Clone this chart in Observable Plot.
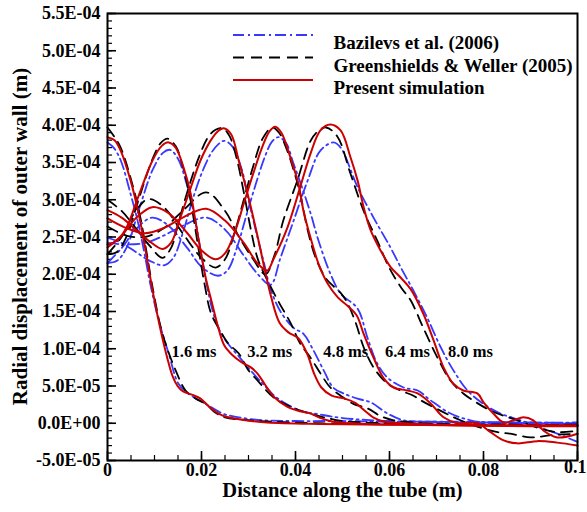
<!DOCTYPE html>
<html>
<head>
<meta charset="utf-8">
<script src="https://cdn.jsdelivr.net/npm/d3@7"></script>
<script src="https://cdn.jsdelivr.net/npm/@observablehq/plot@0.6"></script>
<style>
  html, body { margin: 0; padding: 0; background: #fff; }
  svg { display: block; }
</style>
</head>
<body>
<div id="chart"></div>
<script>
// Values: x in m, y in units of 1E-04 m
const UNIT = 1e-4;

// Present simulation (red, solid)
const red16 = [[0,3.84],[0.0015,3.8],[0.0028,3.66],[0.0049,3.26],[0.0066,2.82],[0.0081,2.32],[0.0096,1.78],[0.0113,1.25],[0.0127,0.88],[0.0138,0.64],[0.0149,0.5],[0.016,0.43],[0.0181,0.38],[0.0198,0.33],[0.0215,0.23],[0.0236,0.13],[0.0257,0.08],[0.0294,0.04],[0.034,0.01],[0.045,-0.01],[0.06,-0.02],[0.075,-0.03],[0.09,-0.04],[0.1,-0.04]];
const red32 = [[0,2.4],[0.002,2.45],[0.004,2.62],[0.0066,3.05],[0.0096,3.53],[0.0115,3.72],[0.013,3.77],[0.0145,3.7],[0.0162,3.43],[0.0177,3.08],[0.0187,2.72],[0.0198,2.32],[0.0209,1.95],[0.0222,1.62],[0.0235,1.3],[0.0248,1.05],[0.0265,0.92],[0.0285,0.82],[0.0305,0.75],[0.032,0.66],[0.0335,0.52],[0.0355,0.35],[0.0383,0.22],[0.041,0.16],[0.0432,0.13],[0.0453,0.07],[0.048,0.02],[0.055,-0.01],[0.07,-0.02],[0.085,-0.03],[0.1,-0.03]];
const red48 = [[0,2.86],[0.003,2.76],[0.006,2.6],[0.009,2.44],[0.0117,2.34],[0.0135,2.42],[0.0155,2.76],[0.0177,3.16],[0.0198,3.53],[0.0219,3.79],[0.0235,3.92],[0.0247,3.96],[0.0263,3.88],[0.0279,3.53],[0.030,3.03],[0.032,2.49],[0.0335,2.05],[0.0348,1.7],[0.0366,1.35],[0.0385,1.22],[0.0406,1.14],[0.0425,0.93],[0.044,0.66],[0.0455,0.48],[0.0477,0.37],[0.0505,0.33],[0.0528,0.27],[0.0545,0.18],[0.0565,0.08],[0.059,0.02],[0.063,0.0],[0.07,-0.02],[0.08,-0.03],[0.09,-0.03],[0.1,-0.03]];
const red64 = [[0,2.36],[0.003,2.52],[0.006,2.75],[0.0095,2.9],[0.013,2.82],[0.017,2.55],[0.020,2.32],[0.023,2.2],[0.025,2.28],[0.027,2.55],[0.029,2.95],[0.031,3.35],[0.033,3.72],[0.0345,3.92],[0.0357,3.98],[0.037,3.9],[0.039,3.55],[0.0406,3.22],[0.0417,2.85],[0.0432,2.49],[0.0449,2.14],[0.0468,1.88],[0.049,1.69],[0.051,1.58],[0.053,1.45],[0.0545,1.2],[0.0566,0.88],[0.0587,0.61],[0.0609,0.48],[0.0638,0.44],[0.066,0.4],[0.0687,0.27],[0.0715,0.08],[0.0745,0.0],[0.0787,0.0],[0.0815,-0.12],[0.0843,-0.23],[0.0872,-0.27],[0.0915,-0.24],[0.0957,-0.26],[0.1,-0.3]];
const red80 = [[0,2.75],[0.004,2.62],[0.008,2.55],[0.012,2.62],[0.016,2.76],[0.021,2.88],[0.025,2.72],[0.029,2.42],[0.032,2.14],[0.034,2.05],[0.0353,2.2],[0.0383,2.63],[0.041,3.17],[0.0432,3.62],[0.0453,3.93],[0.0474,4.01],[0.0496,3.93],[0.0517,3.57],[0.0532,3.26],[0.0545,2.9],[0.056,2.59],[0.0581,2.32],[0.0602,2.1],[0.0623,1.96],[0.0645,1.8],[0.0672,1.47],[0.0694,1.11],[0.0715,0.75],[0.0736,0.53],[0.0757,0.44],[0.0787,0.4],[0.08,0.28],[0.0821,0.13],[0.0843,0.01],[0.0864,0.04],[0.0885,0.08],[0.0906,0.04],[0.0928,-0.1],[0.0957,-0.19],[0.1,-0.14]];

// Greenshields & Weller (2005) (black, dashed)
const black16 = [[0,3.97],[0.0013,3.86],[0.0028,3.7],[0.0055,3.16],[0.007,2.76],[0.0083,2.3],[0.0096,1.82],[0.0117,1.2],[0.0145,0.71],[0.0166,0.44],[0.0188,0.33],[0.0209,0.26],[0.023,0.14],[0.025,0.08],[0.03,0.04],[0.035,0.02],[0.045,0.0],[0.06,-0.01],[0.075,-0.02],[0.09,-0.03],[0.1,-0.03]];
const black32 = [[0,2.27],[0.002,2.3],[0.004,2.5],[0.0066,3.0],[0.0096,3.55],[0.0113,3.76],[0.0128,3.82],[0.0145,3.72],[0.016,3.45],[0.0175,3.05],[0.0185,2.68],[0.0196,2.25],[0.0207,1.85],[0.022,1.48],[0.024,1.24],[0.0257,1.07],[0.0279,0.94],[0.03,0.71],[0.032,0.57],[0.0332,0.48],[0.0353,0.35],[0.0383,0.24],[0.042,0.15],[0.046,0.08],[0.05,0.03],[0.055,0.01],[0.07,-0.01],[0.085,-0.02],[0.1,-0.02]];
const black48 = [[0,3.0],[0.003,2.85],[0.006,2.62],[0.009,2.38],[0.0117,2.22],[0.0135,2.35],[0.0152,2.72],[0.0173,3.17],[0.0195,3.58],[0.0215,3.85],[0.023,3.94],[0.0245,3.96],[0.026,3.85],[0.0275,3.55],[0.029,3.1],[0.0305,2.6],[0.032,2.2],[0.034,1.92],[0.0365,1.62],[0.039,1.34],[0.041,1.07],[0.0432,0.88],[0.0453,0.67],[0.0474,0.48],[0.0496,0.37],[0.0523,0.26],[0.0553,0.2],[0.058,0.1],[0.0609,0.04],[0.065,0.01],[0.07,-0.01],[0.085,-0.02],[0.1,-0.03]];
const black64 = [[0,2.27],[0.003,2.5],[0.006,2.85],[0.0087,3.01],[0.012,2.9],[0.016,2.55],[0.02,2.22],[0.023,2.09],[0.025,2.2],[0.027,2.55],[0.029,3.0],[0.031,3.45],[0.033,3.82],[0.035,3.97],[0.0365,3.9],[0.038,3.7],[0.0395,3.42],[0.041,3.08],[0.0426,2.59],[0.0443,2.22],[0.0464,1.95],[0.0479,1.85],[0.0496,1.75],[0.051,1.62],[0.0528,1.35],[0.0545,1.02],[0.0566,0.75],[0.0596,0.53],[0.0623,0.44],[0.0651,0.37],[0.0666,0.31],[0.0708,0.17],[0.0751,0.04],[0.0794,-0.06],[0.083,-0.12],[0.0857,-0.14],[0.09,-0.19],[0.0943,-0.16],[0.1,-0.14]];
const black80 = [[0,2.64],[0.004,2.52],[0.008,2.5],[0.012,2.62],[0.016,2.85],[0.021,3.1],[0.025,2.85],[0.028,2.5],[0.031,2.2],[0.0336,2.0],[0.0355,2.25],[0.0374,2.72],[0.0404,3.26],[0.0432,3.79],[0.0448,3.92],[0.0465,3.97],[0.0489,3.85],[0.0517,3.35],[0.0545,2.85],[0.0574,2.45],[0.06,2.08],[0.0625,1.82],[0.0645,1.65],[0.0672,1.28],[0.0702,0.88],[0.073,0.57],[0.0757,0.4],[0.0787,0.27],[0.0815,0.17],[0.0843,0.1],[0.0872,0.04],[0.0915,-0.06],[0.0957,-0.12],[0.1,-0.1]];

// Bazilevs et al. (2006) (blue, dash-dot)
const blue16 = [[0,3.77],[0.0013,3.7],[0.0028,3.53],[0.0049,3.08],[0.0064,2.72],[0.0078,2.3],[0.0091,1.87],[0.0109,1.38],[0.013,0.94],[0.0151,0.53],[0.0172,0.4],[0.0209,0.26],[0.0245,0.13],[0.0279,0.08],[0.033,0.04],[0.04,0.03],[0.05,0.03],[0.06,0.02],[0.07,0.02],[0.08,0.01],[0.09,0.01],[0.1,0.0]];
const blue32 = [[0,2.15],[0.002,2.18],[0.004,2.35],[0.0066,2.85],[0.0096,3.4],[0.0118,3.63],[0.0133,3.67],[0.015,3.55],[0.0168,3.22],[0.0185,2.78],[0.0198,2.32],[0.021,1.9],[0.0222,1.55],[0.0236,1.28],[0.0255,1.08],[0.0279,0.9],[0.03,0.74],[0.032,0.6],[0.0332,0.52],[0.0353,0.38],[0.038,0.26],[0.0415,0.16],[0.045,0.12],[0.05,0.07],[0.06,0.03],[0.075,0.02],[0.09,0.01],[0.1,0.01]];
const blue48 = [[0,2.49],[0.003,2.42],[0.006,2.3],[0.009,2.18],[0.012,2.12],[0.014,2.22],[0.016,2.55],[0.018,2.98],[0.02,3.35],[0.022,3.62],[0.0235,3.74],[0.0248,3.79],[0.0265,3.72],[0.0285,3.42],[0.03,3.0],[0.0317,2.55],[0.0333,2.15],[0.0347,1.8],[0.0368,1.5],[0.0396,1.28],[0.0417,1.2],[0.0438,0.98],[0.046,0.71],[0.048,0.48],[0.0502,0.4],[0.0532,0.33],[0.056,0.28],[0.0596,0.13],[0.063,0.04],[0.067,0.02],[0.08,0.01],[0.09,0.0],[0.1,-0.01]];
const blue64 = [[0,2.15],[0.003,2.35],[0.006,2.6],[0.0095,2.76],[0.013,2.65],[0.017,2.35],[0.02,2.1],[0.0235,1.98],[0.0255,2.05],[0.0275,2.35],[0.0295,2.78],[0.0315,3.2],[0.0335,3.58],[0.035,3.78],[0.0364,3.84],[0.038,3.76],[0.0395,3.5],[0.0412,3.2],[0.0432,2.82],[0.0449,2.45],[0.0474,2.01],[0.0496,1.74],[0.0532,1.54],[0.0553,1.15],[0.0574,0.8],[0.0596,0.61],[0.063,0.48],[0.066,0.44],[0.0687,0.31],[0.073,0.13],[0.0772,0.04],[0.0815,0.0],[0.09,0.0],[0.1,-0.02]];
const blue80 = [[0,2.42],[0.004,2.4],[0.008,2.42],[0.012,2.52],[0.016,2.65],[0.021,2.76],[0.025,2.6],[0.029,2.25],[0.032,2.0],[0.0347,1.86],[0.0368,2.22],[0.0396,2.72],[0.0426,3.26],[0.0453,3.66],[0.0481,3.77],[0.0496,3.7],[0.0532,3.17],[0.0566,2.76],[0.0602,2.36],[0.0625,2.08],[0.0651,1.78],[0.068,1.42],[0.0709,1.02],[0.0736,0.71],[0.0766,0.44],[0.08,0.26],[0.0836,0.13],[0.0879,0.04],[0.0921,-0.06],[0.0957,-0.14],[0.1,-0.25]];

const sources = ["Bazilevs et al. (2006)", "Greenshields & Weller (2005)", "Present simulation"];
const times = ["1.6", "3.2", "4.8", "6.4", "8.0"];
const curves = [
  [blue16, blue32, blue48, blue64, blue80],
  [black16, black32, black48, black64, black80],
  [red16, red32, red48, red64, red80]
];

// time labels (data position of each label's centre)
const timeLabels = ["1.6 ms", "3.2 ms", "4.8 ms", "6.4 ms", "8.0 ms"];
const timeLabelX = [0.0184, 0.0345, 0.0507, 0.0638, 0.0772];
const timeLabelY = 0.96 * UNIT;

// axis ticks
const xTicks = [0, 0.02, 0.04, 0.06, 0.08, 0.1];
const xMinor = d3.range(0, 21).map(i => i * 0.005);
const yTicks = d3.range(-1, 12).map(i => i * 5e-5);
const yMinor = d3.range(-5, 56).map(i => i * 1e-5);

const xLabel = "Distance along the tube (m)";
const yLabel = "Radial displacement of outer wall (m)";

const styles = [
  {stroke: "#3838ff", strokeWidth: 1.8, strokeDasharray: "11,4,2,4"},
  {stroke: "#000000", strokeWidth: 1.8, strokeDasharray: "11,7"},
  {stroke: "#cc0000", strokeWidth: 2, strokeDasharray: null}
];

const lineData = sources.map((src, si) => curves[si].flatMap((pts, ti) =>
  pts.map(([x, y]) => ({x, y: y * UNIT, key: src + " " + times[ti]}))));

function fmtE(v) {
  const s = v.toExponential(1);
  let [m, e] = s.split("e");
  const sign = e[0] === "-" ? "-" : "+";
  e = e.replace(/[+-]/, "");
  return m + "E" + sign + e.padStart(2, "0");
}
const fmtX = d => d === 0 ? "0" : String(d);

const FONT = "'Liberation Serif', 'Times New Roman', serif";
const W = 587, H = 512, ML = 107, MR = 10, MT = 13, MB = 52;
const innerW = W - ML - MR, innerH = H - MT - MB;

const chart = Plot.plot({
  width: W, height: H,
  marginLeft: ML, marginRight: MR, marginTop: MT, marginBottom: MB,
  x: {domain: [0, 0.1]},
  y: {domain: [-5e-5, 5.5e-4]},
  style: {fontFamily: FONT, fontWeight: "bold", background: "white", color: "black"},
  marks: [
    Plot.axisX({ticks: xTicks.slice(0, -1), tickSize: 0, tickPadding: 3, tickFormat: fmtX, fontSize: 18, fontWeight: "bold", label: null}),
    Plot.text(xTicks.slice(-1), {x: d => d, frameAnchor: "bottom", dy: 12, dx: 9, textAnchor: "end", text: fmtX, fontSize: 18, fontWeight: "bold", fill: "black"}),
    Plot.axisY({ticks: yTicks, tickSize: 0, tickPadding: 7, tickFormat: fmtE, fontSize: 18, fontWeight: "bold", label: null}),
    Plot.tickX(xMinor, {x: d => d, insetTop: innerH - 5, stroke: "black", strokeWidth: 1.2}),
    Plot.tickX(xTicks, {x: d => d, insetTop: innerH - 9, stroke: "black", strokeWidth: 1.6}),
    Plot.tickY(yMinor, {y: d => d, insetRight: innerW - 5, stroke: "black", strokeWidth: 1.2}),
    Plot.tickY(yTicks, {y: d => d, insetRight: innerW - 9, stroke: "black", strokeWidth: 1.6}),
    ...lineData.map((d, i) => Plot.line(d, {x: "x", y: "y", z: "key", curve: "catmull-rom", ...styles[i]})),
    Plot.frame({stroke: "black", strokeWidth: 2}),
    Plot.text(timeLabels, {x: (d, i) => timeLabelX[i], y: () => timeLabelY, text: d => d, fontSize: 16.5, fontWeight: "bold", fill: "black"}),
    ...sources.map((s, i) => Plot.text([s], {frameAnchor: "top-left", dx: 226, dy: 22 + i * 22.5, text: d => d, textAnchor: "start", fontSize: 19, fontWeight: "bold", fill: "black"})),
    Plot.text([xLabel], {frameAnchor: "bottom", dy: 36, text: d => d, fontSize: 20.5, fontWeight: "bold", fill: "black"})
  ]
});

const svg = d3.select(chart);
// legend sample lines
sources.forEach((s, i) => {
  const st = styles[i];
  svg.append("line")
    .attr("x1", 233).attr("x2", 313)
    .attr("y1", 35 + i * 22.5).attr("y2", 35 + i * 22.5)
    .attr("stroke", st.stroke).attr("stroke-width", st.strokeWidth)
    .attr("stroke-dasharray", st.strokeDasharray);
});
// y axis title
svg.append("text")
  .attr("transform", `translate(20,${MT + innerH / 2}) rotate(-90)`)
  .attr("text-anchor", "middle")
  .attr("dominant-baseline", "central")
  .attr("font-family", FONT)
  .attr("font-weight", "bold")
  .attr("font-size", 21)
  .attr("fill", "black")
  .text(yLabel);

document.getElementById("chart").append(chart);
</script>
</body>
</html>
